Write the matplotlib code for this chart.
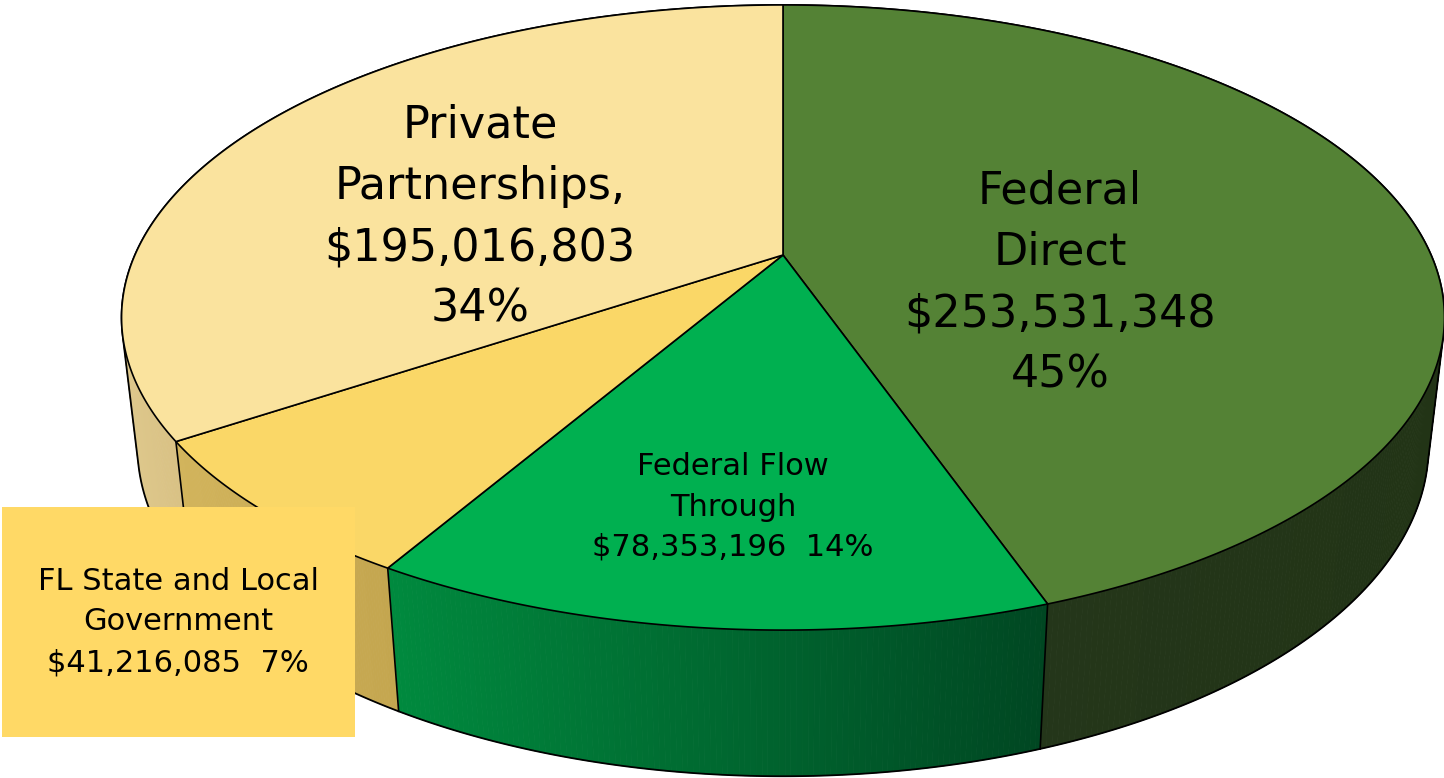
import numpy as np
import matplotlib
matplotlib.use('Agg')
import matplotlib.pyplot as plt
from matplotlib.patches import Polygon, Rectangle
from matplotlib.collections import PolyCollection
from matplotlib.colors import to_rgb

# ---------------- data ----------------
categories = ['Federal Direct', 'Federal Flow Through',
              'FL State and Local Government', 'Private Partnerships']
values = [253531348, 78353196, 41216085, 195016803]
label_texts = ['Federal\nDirect\n$253,531,348\n45%',
               'Federal Flow\nThrough\n$78,353,196  14%',
               'FL State and Local\nGovernment\n$41,216,085  7%',
               'Private\nPartnerships,\n$195,016,803\n34%']
top_colors = ['#548235', '#00B050', '#FAD767', '#FAE39E']
side_left = ['#24361A', '#008A3E', '#D2B45C', '#DEC88C']
side_right = ['#223416', '#004722', '#C4A64F', '#D8C083']

# ---------------- projection of a 3D pie ----------------
CX, CY = 783, 255
FOC, DIST = 2871.0, 4.43
SIN, COS = 0.463, 0.886
HGT = 0.225


def proj(t, z=0.0):
    u, v = np.cos(t), np.sin(t)
    d = DIST + v * COS - z * SIN
    return CX + FOC * u / d, CY - FOC * (v * SIN + z * COS) / d


fig = plt.figure(figsize=(14.44, 7.78), dpi=100)
ax = fig.add_axes([0, 0, 1, 1])
ax.set_xlim(0, 1444)
ax.set_ylim(778, 0)
ax.axis('off')

fr = np.array(values, dtype=float) / np.sum(values)
bounds = np.pi / 2 - 2 * np.pi * np.concatenate([[0], np.cumsum(fr)])

# front-facing wall range
s0 = 1.0 / (DIST * COS)
left_sil = -np.pi - np.arcsin(s0)
right_sil = -np.arcsin(s0)

# side walls
polys, cols = [], []
for i in range(len(values)):
    a0, a1 = bounds[i], bounds[i + 1]        # a0 > a1
    lo = max(a1, left_sil)
    hi = min(a0, right_sil)
    if hi <= lo:
        continue
    ts = np.linspace(lo, hi, 120)
    xt, yt = proj(ts, 0.0)
    xb, yb = proj(ts, -HGT)
    xmin, xmax = xt.min(), xt.max()
    cl, cr = np.array(to_rgb(side_left[i])), np.array(to_rgb(side_right[i]))
    for k in range(len(ts) - 1):
        q = [(xt[k], yt[k]), (xt[k + 1], yt[k + 1]),
             (xb[k + 1], yb[k + 1]), (xb[k], yb[k])]
        f = ((xt[k] + xt[k + 1]) / 2 - xmin) / max(xmax - xmin, 1)
        polys.append(q)
        cols.append(cl * (1 - f) + cr * f)
pc = PolyCollection(polys, facecolors=cols, edgecolors=cols, linewidths=0.6, zorder=1)
ax.add_collection(pc)

# vertical edges at visible slice boundaries
for b in bounds[1:-1]:
    if np.sin(b) < -s0:
        x0, y0 = proj(b, 0.0)
        x1, y1 = proj(b, -HGT)
        ax.plot([x0, x1], [y0, y1], color='black', lw=1.2, zorder=2)

# outer outline: top arc over the back, bottom arc across the front
ta = np.linspace(-np.arcsin(s0), np.pi + np.arcsin(s0), 400)
tb = np.linspace(np.pi + np.arcsin(s0), 2 * np.pi - np.arcsin(s0), 400)
xo1, yo1 = proj(ta, 0.0)
xo2, yo2 = proj(tb, -HGT)
ox = np.concatenate([xo1, xo2])
oy = np.concatenate([yo1, yo2])
ax.add_patch(Polygon(np.column_stack([ox, oy]), closed=True, fill=False,
                     edgecolor='black', lw=1.3, zorder=2))

# top faces
for i in range(len(values)):
    ts = np.linspace(bounds[i], bounds[i + 1], 300)
    xs, ys = proj(ts, 0.0)
    pts = np.vstack([[CX, CY], np.column_stack([xs, ys])])
    ax.add_patch(Polygon(pts, closed=True, facecolor=top_colors[i],
                         edgecolor='black', lw=1.2, joinstyle='round', zorder=3))

# labels
ax.text(1060, 283, label_texts[0], ha='center', va='center', fontsize=32,
        linespacing=1.53, zorder=5, family='DejaVu Sans')
ax.text(733, 507, label_texts[1], ha='center', va='center', fontsize=22,
        linespacing=1.5, zorder=5, family='DejaVu Sans')
ax.add_patch(Rectangle((2, 507), 353, 230, facecolor='#FFD966',
                       edgecolor='none', zorder=4))
ax.text(178, 622, label_texts[2], ha='center', va='center', fontsize=22,
        linespacing=1.5, zorder=5, family='DejaVu Sans')
ax.text(480, 217, label_texts[3], ha='center', va='center', fontsize=32,
        linespacing=1.53, zorder=5, family='DejaVu Sans')

fig.savefig('out.png', dpi=100, facecolor='white')
